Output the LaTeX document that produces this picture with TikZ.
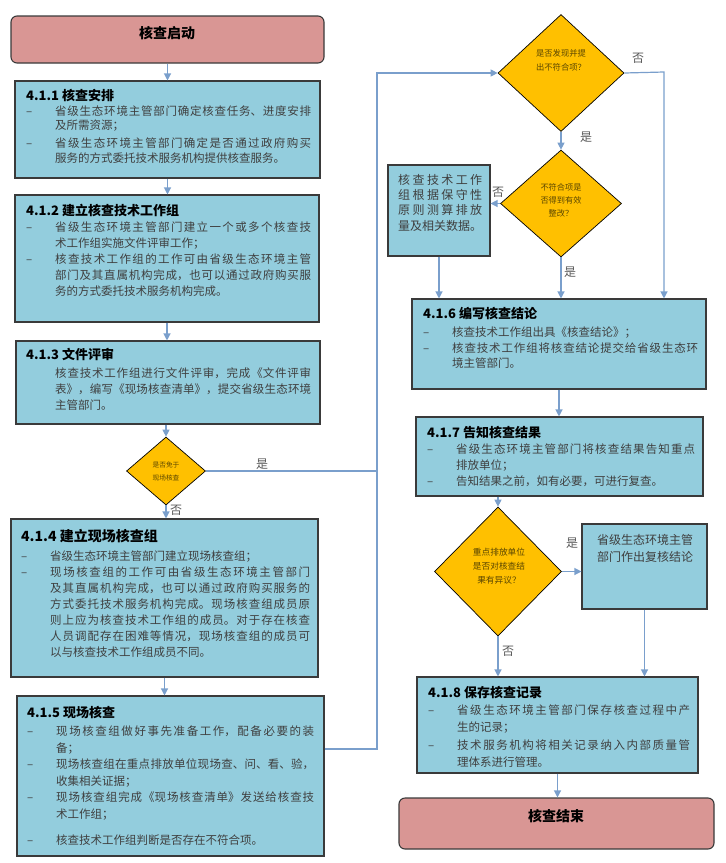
\documentclass[tikz,border=0pt]{standalone}
\usepackage{fontspec}
\setmainfont{Noto Sans CJK SC}
\usepackage{tikz}
\usetikzlibrary{arrows.meta, shapes.geometric, positioning, fit, calc}
\XeTeXlinebreaklocale "zh"
\XeTeXlinebreakskip=0pt plus 4pt

\definecolor{boxblue}{HTML}{93CDDD}
\definecolor{endpink}{HTML}{D99694}
\definecolor{decideyellow}{HTML}{FFC000}
\definecolor{flowblue}{HTML}{7A9FCC}
\definecolor{boxline}{HTML}{3A3A3A}
\definecolor{bodygray}{HTML}{3F3F3F}
\definecolor{decidetext}{HTML}{5A4600}
\definecolor{labelgray}{HTML}{595959}

\tikzset{
  stepbox/.style={draw=boxline, fill=boxblue, line width=1.1pt, inner sep=0pt},
  endbox/.style={draw=boxline, fill=endpink, line width=1.1pt, rounded corners=6pt, inner sep=0pt},
  decide/.style={diamond, draw=black, fill=decideyellow, line width=0.7pt, inner sep=0pt},
  boxtext/.style={anchor=north west, inner sep=0pt, align=justify, text=bodygray},
  dtext/.style={align=center, inner sep=0pt, text=decidetext},
  yn/.style={inner sep=0pt, text=labelgray, font=\fontsize{12}{12}\selectfont},
  arr/.style={->, draw=flowblue, line width=1.2pt},
  ln/.style={draw=flowblue, line width=1.2pt}
}

% title, items with dash, plain indented paragraph
\newcommand\ttl[2][13]{\noindent{\fontsize{#1}{16}\selectfont\bfseries\textcolor{black}{#2}\par}}
\newcommand\itm[2][0pt]{\par\vspace{#1}\noindent\hangindent=29pt\hangafter=1\makebox[29pt][l]{–}#2\par}
\newcommand\para[2][0pt]{\par\vspace{#1}\noindent\hangindent=29pt\hangafter=0 #2\par}

\begin{document}
\begin{tikzpicture}[x=1pt, y=-1pt, >={Triangle[length=7pt,width=7pt]}]

\useasboundingbox (0,0) rectangle (726,863);

% left column
\node[endbox, fit={(11,16) (324,63)}] (S) {};
\node[font=\fontsize{14}{14}\selectfont\bfseries] (St) at (167,33) {核查启动};

\node[stepbox, fit={(15,81) (320,178)}] (B1) {};
\node[boxtext, text width=285pt, font=\fontsize{11.5}{14.5}\selectfont] (T1) at (26,89.5) {
  \ttl{4.1.1 核查安排}
  \itm{省级生态环境主管部门确定核查任务、进度安排\linebreak 及所需资源；}
  \itm[3.5pt]{省级生态环境主管部门确定是否通过政府购买\linebreak 服务的方式委托技术服务机构提供核查服务。}};

\node[stepbox, fit={(15,195) (319,322)}] (B2) {};
\node[boxtext, text width=285pt, font=\fontsize{11.5}{16}\selectfont] (T2) at (26,203.5) {
  \ttl{4.1.2 建立核查技术工作组}
  \itm{省级生态环境主管部门建立一个或多个核查技\linebreak 术工作组实施文件评审工作；}
  \itm{核查技术工作组的工作可由省级生态环境主管\linebreak 部门及其直属机构完成，也可以通过政府购买服\linebreak 务的方式委托技术服务机构完成。}};

\node[stepbox, fit={(16,341) (320,424)}] (B3) {};
\node[boxtext, text width=285pt, font=\fontsize{11.5}{16}\selectfont] (T3) at (26,347.5) {
  \ttl{4.1.3 文件评审}
  \para[2pt]{核查技术工作组进行文件评审，完成《文件评审\linebreak 表》，编写《现场核查清单》，提交省级生态环境\linebreak 主管部门。}};

\node[decide, minimum width=79pt, minimum height=68pt] (D1) at (166,471) {};
\node[dtext, font=\fontsize{6.7}{13}\selectfont] (D1t) at (166,471.5) {是否免于\\现场核查};

\node[stepbox, fit={(11,519) (318,677)}] (B4) {};
\node[boxtext, text width=289pt, font=\fontsize{11.5}{16}\selectfont] (T4) at (21,529) {
  \ttl[14]{4.1.4 建立现场核查组}
  \itm[3pt]{省级生态环境主管部门建立现场核查组；}
  \itm{现场核查组的工作可由省级生态环境主管部门\linebreak 及其直属机构完成，也可以通过政府购买服务的\linebreak 方式委托技术服务机构完成。现场核查组成员原\linebreak 则上应为核查技术工作组的成员。对于存在核查\linebreak 人员调配存在困难等情况，现场核查组的成员可\linebreak 以与核查技术工作组成员不同。}};

\node[stepbox, fit={(17,696) (324,856)}] (B5) {};
\node[boxtext, text width=287pt, font=\fontsize{11.5}{16.5}\selectfont] (T5) at (27,706.5) {
  \ttl{4.1.5 现场核查}
  \itm[1.5pt]{现场核查组做好事先准备工作，配备必要的装\linebreak 备；}
  \itm{现场核查组在重点排放单位现场查、问、看、验，\linebreak 收集相关证据；}
  \itm{现场核查组完成《现场核查清单》发送给核查技\linebreak 术工作组；}
  \itm[9.5pt]{核查技术工作组判断是否存在不符合项。}};

% right column
\node[decide, minimum width=126pt, minimum height=117pt] (D2) at (561,73) {};
\node[dtext, font=\fontsize{8.3}{14}\selectfont] (D2t) at (561,60) {是否发现并提\\出不符合项？};

\node[decide, minimum width=121pt, minimum height=107pt] (D3) at (561,203.5) {};
\node[dtext, font=\fontsize{8.2}{13}\selectfont] (D3t) at (561,200) {不符合项是\\否得到有效\\整改？};

\node[stepbox, fit={(388,165) (490,256)}] (L) {};
\node[boxtext, text width=84pt, font=\fontsize{12}{15.3}\selectfont] (TL) at (398,174) {核查技术工作\linebreak 组根据保守性\linebreak 原则测算排放\linebreak 量及相关数据。};

\node[stepbox, fit={(412,299) (706,389)}] (B6) {};
\node[boxtext, text width=275pt, font=\fontsize{11.5}{15.5}\selectfont] (T6) at (423,307.5) {
  \ttl{4.1.6 编写核查结论}
  \itm[2.5pt]{核查技术工作组出具《核查结论》；}
  \itm{核查技术工作组将核查结论提交给省级生态环\linebreak 境主管部门。}};

\node[stepbox, fit={(416,417) (703,496)}] (B7) {};
\node[boxtext, text width=268pt, font=\fontsize{11.5}{16}\selectfont] (T7) at (427,426.5) {
  \ttl{4.1.7 告知核查结果}
  \itm{省级生态环境主管部门将核查结果告知重点\linebreak 排放单位；}
  \itm{告知结果之前，如有必要，可进行复查。}};

\node[decide, minimum width=127pt, minimum height=129pt] (D4) at (498,571.5) {};
\node[dtext, font=\fontsize{8.7}{14}\selectfont] (D4t) at (499,566) {重点排放单位\\是否对核查结\\果有异议？};

\node[stepbox, fit={(582,524) (707,609)}] (R) {};
\node[inner sep=0pt, anchor=north, align=center, text=bodygray, font=\fontsize{12}{17}\selectfont] (TR) at (645,534) {省级生态环境主管\\部门作出复核结论};

\node[stepbox, fit={(417,677) (698,773)}] (B8) {};
\node[boxtext, text width=262pt, font=\fontsize{11.5}{17}\selectfont] (T8) at (428,686.5) {
  \ttl{4.1.8 保存核查记录}
  \itm{省级生态环境主管部门保存核查过程中产\linebreak 生的记录；}
  \itm[1pt]{技术服务机构将相关记录纳入内部质量管\linebreak 理体系进行管理。}};

\node[endbox, fit={(399,798) (714,849)}] (E) {};
\node[font=\fontsize{14}{14}\selectfont\bfseries] (Et) at (556,816) {核查结束};

% junctions of the long line
\coordinate (J1) at (377,749);
\coordinate (J2) at (664,72);

% connectors
\draw[arr] (S) -- (B1);
\draw[arr] (B1.south) -- (B1.south |- B2.north);
\draw[arr] (B2.south) -- (B2.south |- B3.north);
\draw[arr] (B3.south -| D1.north) -- (D1.north);
\draw[arr] (D1.south) -- (D1.south |- B4.north);
\draw[arr] (B4.south) -- (B4.south |- B5.north);
\draw[ln] (D1.east) -- (D1.east -| J1);
\draw[arr] (B5.east |- J1) -- (J1) -- (J1 |- D2.west) -- (D2.west);
\draw[arr] (D2.east) -- (J2) -- (J2 |- B6.north);
\draw[arr] (D2.south) -- (D3.north);
\draw[arr] (D3.west) -- (D3.west -| L.east);
\draw[arr] (L.south) -- (L.south |- B6.north);
\draw[arr] (D3.south) -- (D3.south |- B6.north);
\draw[arr] (B6.south) -- (B6.south |- B7.north);
\draw[arr] (D4.north |- B7.south) -- (D4.north);
\draw[arr] (D4.east) -- (D4.east -| R.west);
\draw[arr] (R.south) -- (R.south |- B8.north);
\draw[arr] (D4.south) -- (D4.south |- B8.north);
\draw[arr] (B8.south) -- (B8.south |- E.north);

% yes / no labels
\node[yn] (y1) at (262,464) {是};
\node[yn] (n1) at (176,510) {否};
\node[yn] (n2) at (638,58) {否};
\node[yn] (y2) at (586,137) {是};
\node[yn] (n3) at (498,192) {否};
\node[yn] (y3) at (570,272) {是};
\node[yn] (y4) at (572,543) {是};
\node[yn] (n4) at (508,651) {否};

\end{tikzpicture}
\end{document}
